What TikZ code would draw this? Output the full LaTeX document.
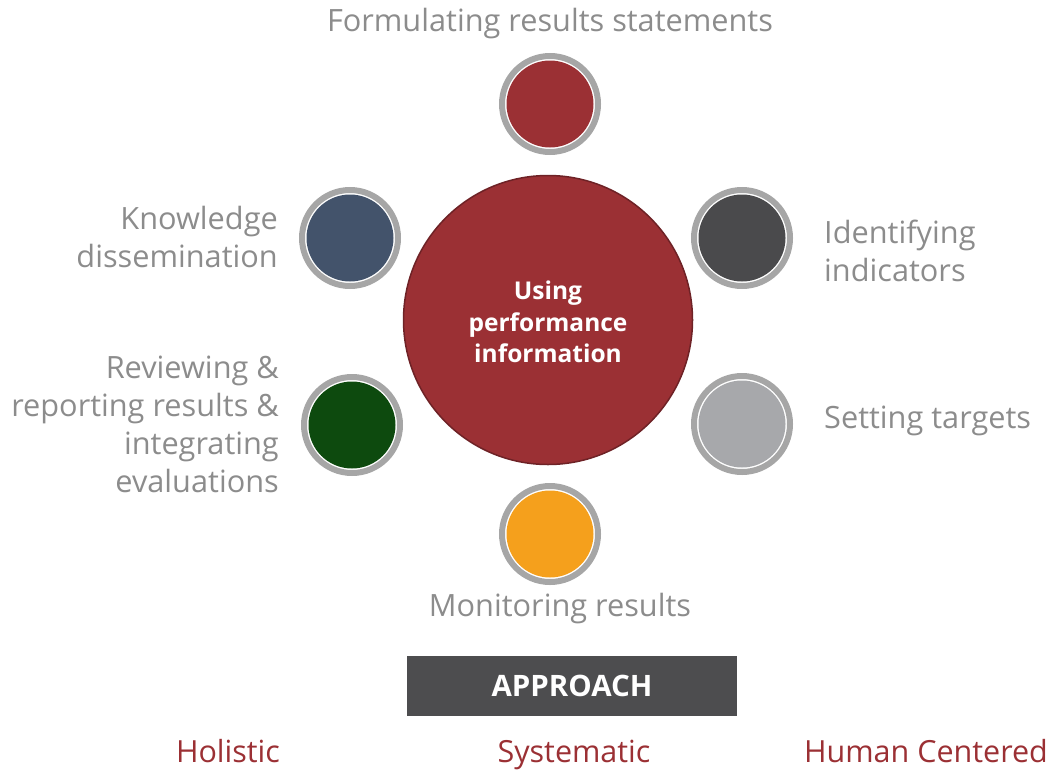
\documentclass[tikz,border=0pt]{standalone}
\usepackage{fontspec}
\setmainfont{Open Sans}
\definecolor{maroon}{HTML}{9B3034}
\definecolor{maroonedge}{HTML}{6E2226}
\definecolor{labelgray}{HTML}{8C8C8C}
\definecolor{ringgray}{HTML}{A6A6A6}
\definecolor{slateblue}{HTML}{43536B}
\definecolor{charcoal}{HTML}{4A4A4C}
\definecolor{forest}{HTML}{0D4A0E}
\definecolor{silver}{HTML}{A7A8AB}
\definecolor{amber}{HTML}{F5A01C}
\definecolor{boxgray}{HTML}{4D4D4F}
\begin{document}
\begin{tikzpicture}[x=1pt,y=-1pt,
  ring/.style={circle,draw=ringgray,line width=6pt,minimum size=96pt,inner sep=0pt,
    path picture={\fill[white] (path picture bounding box.center) circle (46pt);
                  \fill[#1] (path picture bounding box.center) circle (43.5pt);}},
  lbl/.style={text=labelgray,font=\fontsize{30.7}{38}\selectfont,inner sep=0pt},
  foot/.style={text=maroon,font=\fontsize{30.5}{34}\selectfont,inner sep=0pt,anchor=base}]
\useasboundingbox (0,0) rectangle (1048,771);
\node[circle,fill=maroon,draw=maroonedge,line width=1.5pt,minimum size=289pt,inner sep=0pt] (hub) at (548,320) {};
\node[text=white,font=\bfseries\fontsize{24.5}{31.5}\selectfont,align=center] (hubtext) at (548,322) {Using\\performance\\information};
\node[ring=maroon] (c1) at (550,104) {};
\node[ring=charcoal] (c2) at (742,238) {};
\node[ring=silver] (c3) at (742,424) {};
\node[ring=amber] (c4) at (550,534) {};
\node[ring=forest] (c5) at (352,425) {};
\node[ring=slateblue] (c6) at (350,238) {};
\node[lbl,anchor=center] (t1) at (550,24) {Formulating results statements};
\node[lbl,anchor=west,align=left] (t2) at (824,251) {Identifying\\indicators};
\node[lbl,anchor=west] (t3) at (824,421) {Setting targets};
\node[lbl,anchor=center] (t4) at (560,609) {Monitoring results};
\node[lbl,anchor=east,align=right] (t5) at (279,424) {Reviewing \&\\reporting results \&\\integrating\\evaluations};
\node[lbl,anchor=east,align=right] (t6) at (278,237) {Knowledge\\dissemination};
\node[fill=boxgray,minimum width=330pt,minimum height=60pt,inner sep=0pt,text=white,font=\bfseries\fontsize{29.5}{32}\selectfont] (appr) at (572,686) {APPROACH};
\node[foot] (f1) at (228,762) {Holistic};
\node[foot] (f2) at (574,762) {Systematic};
\node[foot] (f3) at (926,762) {Human Centered};
\end{tikzpicture}
\end{document}
